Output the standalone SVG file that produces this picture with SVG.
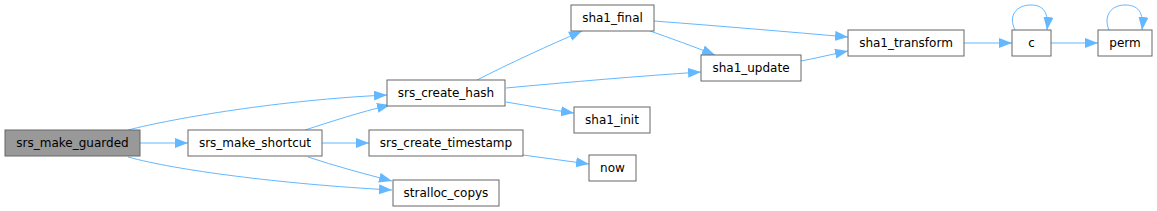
<svg xmlns="http://www.w3.org/2000/svg" width="1157" height="211" viewBox="0 0 1157 211">
<style>
.n rect{fill:#ffffff;stroke:#666666;stroke-width:1}
.n.cur rect{fill:#999999}
.n text{font-family:"DejaVu Sans",sans-serif;font-size:12px;fill:#000000;text-anchor:middle}
.e path{fill:none;stroke:#63b8ff;stroke-width:1;marker-end:url(#ah)}
</style>
<defs>
<marker id="ah" markerUnits="userSpaceOnUse" markerWidth="14" markerHeight="11" refX="13" refY="5" orient="auto">
<path d="M0,0 L13,5 L0,10 z" fill="#63b8ff"/>
</marker>
</defs>
<g id="edges" class="e">
<path d="M128,130 C175,118 280,100 387,95"/>
<path d="M140,143 L188,143"/>
<path d="M128,157 C175,170 280,184 392,190"/>
<path d="M305,130 C330,122 360,112 390,105"/>
<path d="M322,143 L369,143"/>
<path d="M308,157 C335,166 365,174 392,181"/>
<path d="M477,80 C510,63 550,45 582,31"/>
<path d="M506,88 C570,82 640,76 701,72"/>
<path d="M506,102 C530,106 552,110 574,113"/>
<path d="M523,155 C545,158 567,161 589,164"/>
<path d="M654,21 C720,26 790,32 848,37"/>
<path d="M650,31 C670,38 695,47 715,55"/>
<path d="M801,61 C817,58 833,54 848,51"/>
<path d="M964,43 L1012,43"/>
<path d="M1015,30 C1008,16 1016,5 1031,5 C1043,5 1049,12 1047,30"/>
<path d="M1051,43 L1098,43"/>
<path d="M1109,30 C1103,16 1111,5 1125,5 C1138,5 1144,12 1142,30"/>
</g>
<g id="srs_make_guarded" class="n cur"><rect x="5" y="130" width="135" height="26"/><text x="72.5" y="147">srs_make_guarded</text></g>
<g id="srs_make_shortcut" class="n"><rect x="188" y="130" width="134" height="26"/><text x="255" y="147">srs_make_shortcut</text></g>
<g id="srs_create_hash" class="n"><rect x="387" y="80" width="118" height="26"/><text x="446" y="97">srs_create_hash</text></g>
<g id="srs_create_timestamp" class="n"><rect x="369" y="130" width="154" height="26"/><text x="446" y="147">srs_create_timestamp</text></g>
<g id="stralloc_copys" class="n"><rect x="393" y="180" width="106" height="26"/><text x="446" y="197">stralloc_copys</text></g>
<g id="sha1_final" class="n"><rect x="571" y="5" width="83" height="26"/><text x="612.5" y="22">sha1_final</text></g>
<g id="sha1_init" class="n"><rect x="574" y="107" width="76" height="26"/><text x="612" y="124">sha1_init</text></g>
<g id="now" class="n"><rect x="589" y="155" width="47" height="26"/><text x="612.5" y="172">now</text></g>
<g id="sha1_update" class="n"><rect x="701" y="55" width="100" height="26"/><text x="751" y="72">sha1_update</text></g>
<g id="sha1_transform" class="n"><rect x="848" y="30" width="116" height="26"/><text x="906" y="47">sha1_transform</text></g>
<g id="c" class="n"><rect x="1012" y="30" width="39" height="26"/><text x="1031.5" y="47">c</text></g>
<g id="perm" class="n"><rect x="1098" y="30" width="54" height="26"/><text x="1125" y="47">perm</text></g>
</svg>
